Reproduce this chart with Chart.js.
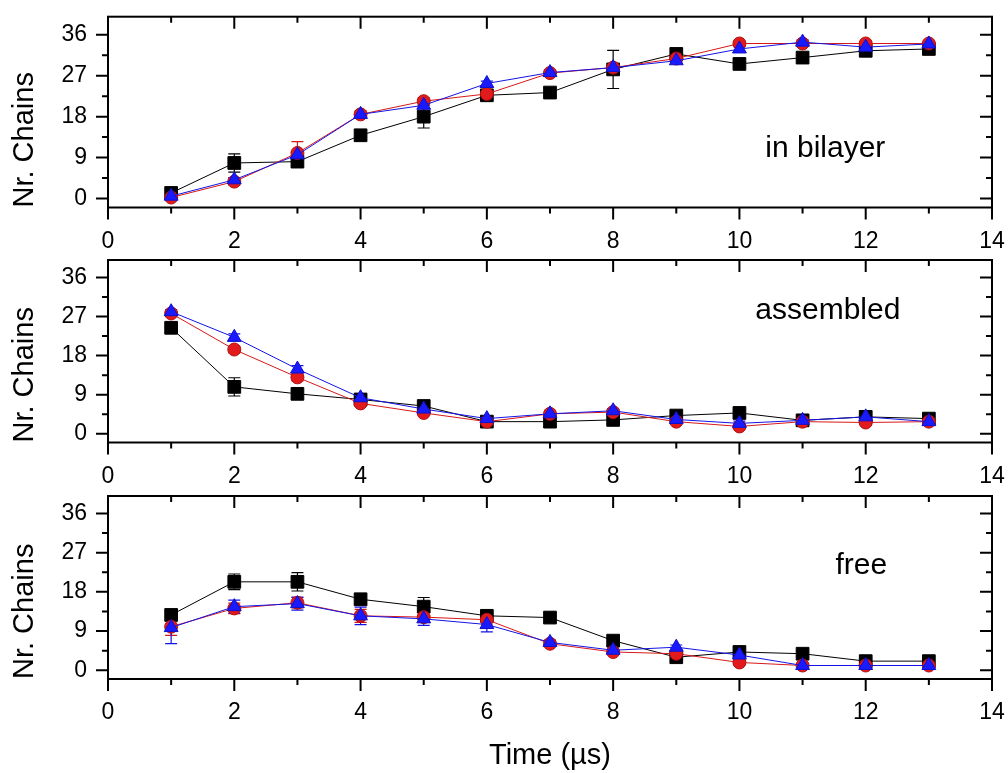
<!DOCTYPE html>
<html>
<head>
<meta charset="utf-8">
<script src="https://cdn.jsdelivr.net/npm/chart.js@4.4.1/dist/chart.umd.min.js"></script>
<style>
  body { margin: 0; background: #fff; }
  #wrap { position: relative; width: 1008px; height: 773px; }
  canvas { position: absolute; left: 0; }
</style>
</head>
<body>
<div id="wrap">
  <canvas id="panel-1" width="1008" height="250" style="top:0px"></canvas>
  <canvas id="panel-2" width="1008" height="236" style="top:250px"></canvas>
  <canvas id="panel-3" width="1008" height="287" style="top:486px"></canvas>
</div>
<script>
// time points (µs)
const times = [1, 2, 3, 4, 5, 6, 7, 8, 9, 10, 11, 12, 13];
const xTickLabels = [0, 2, 4, 6, 8, 10, 12, 14];
const yTickLabels = [0, 9, 18, 27, 36];

// in bilayer
const bilayerBlack = [1.2, 7.8, 8.1, 13.9, 18.0, 22.7, 23.3, 28.4, 31.8, 29.6, 31.0, 32.5, 32.9];
const bilayerRed   = [0.2, 3.7, 10.0, 18.5, 21.4, 23.0, 27.6, 28.8, 30.8, 34.1, 34.1, 34.1, 34.1];
const bilayerBlue  = [0.5, 4.1, 9.6, 18.5, 20.5, 25.3, 27.7, 28.8, 30.3, 32.9, 34.4, 33.3, 34.0];
const bilayerBlackErr = [0.5, 2.0, 0.8, 0.5, 2.5, 0.5, 0.5, 4.2, 0.5, 0.5, 0.5, 0.5, 0.5];
const bilayerRedErr   = [0.5, 0.8, 2.5, 0.8, 0.8, 0.5, 0.5, 0.8, 0.5, 0.5, 0.5, 0.5, 0.5];
const bilayerBlueErr  = [0.3, 0.5, 0.8, 0.5, 0.5, 0.5, 0.5, 0.5, 0.5, 0.5, 0.5, 0.5, 0.5];

// assembled
const assembledBlack = [24.4, 10.8, 9.2, 7.9, 6.4, 2.8, 2.8, 3.2, 4.2, 4.8, 3.1, 3.9, 3.5];
const assembledRed   = [27.7, 19.4, 13.0, 7.0, 4.8, 2.8, 4.6, 5.0, 2.8, 1.7, 2.8, 2.6, 2.8];
const assembledBlue  = [28.1, 22.2, 14.9, 8.3, 5.7, 3.5, 4.6, 5.3, 3.3, 2.4, 3.1, 3.9, 2.8];
const assembledBlackErr = [0.8, 2.1, 0.5, 0.5, 0.5, 0.5, 0.5, 0.5, 0.5, 0.5, 0.5, 0.5, 0.5];
const assembledRedErr   = [0.5, 0.8, 0.8, 0.5, 0.5, 0.5, 0.5, 0.5, 0.5, 0.5, 0.5, 0.5, 0.5];
const assembledBlueErr  = [0.5, 0.8, 0.8, 0.5, 0.5, 0.5, 0.5, 0.5, 0.5, 0.5, 0.5, 0.5, 0.5];

// free
const freeBlack = [12.7, 20.3, 20.3, 16.3, 14.6, 12.5, 12.1, 6.8, 3.0, 4.2, 3.8, 2.1, 2.1];
const freeRed   = [10.0, 14.2, 15.5, 12.5, 12.2, 11.6, 6.1, 4.2, 3.8, 1.8, 1.1, 1.1, 1.1];
const freeBlue  = [9.8, 14.6, 15.3, 12.5, 11.8, 10.5, 6.4, 4.6, 5.3, 3.5, 1.1, 1.1, 1.1];
const freeBlackErr = [1.0, 1.8, 2.1, 1.0, 2.1, 1.0, 0.5, 0.5, 0.5, 0.5, 0.5, 0.5, 0.5];
const freeRedErr   = [2.0, 1.2, 1.2, 1.5, 1.2, 1.2, 0.5, 0.5, 0.5, 0.5, 0.5, 0.5, 0.5];
const freeBlueErr  = [3.7, 1.5, 1.5, 2.0, 1.5, 1.7, 0.5, 0.5, 0.5, 0.5, 0.5, 0.5, 0.5];

Chart.defaults.font.family = "'Liberation Sans', Arial, sans-serif";
Chart.defaults.color = '#000';

const toPoints = vals => times.map((t, i) => ({ x: t, y: vals[i] }));

// frame with ticks on all four sides (out on bottom/left, in on top/right)
const panelFrame = {
  id: 'panelFrame',
  afterDraw(chart) {
    const { ctx, chartArea: a, scales: { x, y } } = chart;
    const xStep = (xTickLabels[1] - xTickLabels[0]) / 2;
    const yStep = (yTickLabels[1] - yTickLabels[0]) / 2;
    ctx.save();
    ctx.strokeStyle = '#000';
    ctx.lineWidth = 2;
    ctx.strokeRect(a.left, a.top, a.right - a.left, a.bottom - a.top);
    ctx.beginPath();
    for (let i = 0; xTickLabels[0] + i * xStep <= xTickLabels[xTickLabels.length - 1]; i++) {
      const px = x.getPixelForValue(xTickLabels[0] + i * xStep);
      const len = i % 2 === 0 ? 12 : 6;
      ctx.moveTo(px, a.bottom); ctx.lineTo(px, a.bottom + len);
      ctx.moveTo(px, a.top); ctx.lineTo(px, a.top + len);
    }
    for (let i = 0; yTickLabels[0] + i * yStep <= yTickLabels[yTickLabels.length - 1]; i++) {
      const py = y.getPixelForValue(yTickLabels[0] + i * yStep);
      const len = i % 2 === 0 ? 12 : 6;
      ctx.moveTo(a.left, py); ctx.lineTo(a.left - len, py);
      ctx.moveTo(a.right, py); ctx.lineTo(a.right - len, py);
    }
    ctx.stroke();
    ctx.restore();
  }
};

const errorBars = {
  id: 'errorBars',
  beforeDatasetsDraw(chart) {
    const { ctx, scales: { x, y } } = chart;
    chart.data.datasets.forEach(ds => {
      if (!ds.yErr) return;
      ctx.save();
      ctx.strokeStyle = ds.borderColor;
      ctx.lineWidth = 1.2;
      ds.data.forEach((p, j) => {
        const e = ds.yErr[j];
        if (!e) return;
        const px = x.getPixelForValue(p.x);
        const y1 = y.getPixelForValue(p.y - e);
        const y2 = y.getPixelForValue(p.y + e);
        ctx.beginPath();
        ctx.moveTo(px, y1); ctx.lineTo(px, y2);
        ctx.moveTo(px - 6, y1); ctx.lineTo(px + 6, y1);
        ctx.moveTo(px - 6, y2); ctx.lineTo(px + 6, y2);
        ctx.stroke();
      });
      ctx.restore();
    });
  }
};

const panelLabel = {
  id: 'panelLabel',
  afterDraw(chart, args, opts) {
    const { ctx, scales: { x, y } } = chart;
    ctx.save();
    ctx.font = "30px 'Liberation Sans', Arial, sans-serif";
    ctx.fillStyle = '#000';
    ctx.textAlign = 'center';
    ctx.textBaseline = 'alphabetic';
    ctx.fillText(opts.text, x.getPixelForValue(opts.x), y.getPixelForValue(opts.y));
    ctx.restore();
  }
};

const makePanel = (id, black, red, blue, errs, label, padTop, xHeight, showTitle) => {
  const ctx = document.getElementById(id);
  return new Chart(ctx, {
    type: 'scatter',
    data: {
      datasets: [
        {
          label: 'black', data: toPoints(black), yErr: errs[0], order: 3,
          showLine: true, borderColor: '#000', borderWidth: 1,
          pointStyle: 'rect', pointRadius: 9, pointBackgroundColor: '#000',
          pointBorderColor: '#000', pointBorderWidth: 1
        },
        {
          label: 'red', data: toPoints(red), yErr: errs[1], order: 2,
          showLine: true, borderColor: '#d81818', borderWidth: 1,
          pointStyle: 'circle', pointRadius: 6.5, pointBackgroundColor: '#e31a1c',
          pointBorderColor: '#b01010', pointBorderWidth: 1
        },
        {
          label: 'blue', data: toPoints(blue), yErr: errs[2], order: 1,
          showLine: true, borderColor: '#1414e6', borderWidth: 1,
          pointStyle: 'triangle', pointRadius: 8, pointBackgroundColor: '#1a1aff',
          pointBorderColor: '#1010cc', pointBorderWidth: 1
        }
      ]
    },
    options: {
      responsive: false,
      devicePixelRatio: 1,
      animation: false,
      events: [],
      layout: { padding: { top: padTop, right: 16, bottom: 0, left: 0 } },
      plugins: {
        legend: { display: false },
        tooltip: { enabled: false },
        panelLabel: label
      },
      scales: {
        x: {
          type: 'linear', min: 0, max: 14,
          afterBuildTicks: s => { s.ticks = xTickLabels.map(v => ({ value: v })); },
          afterFit: s => { s.height = xHeight; s.paddingLeft = 0; s.paddingRight = 0; },
          grid: { display: false, drawTicks: false },
          border: { display: false },
          ticks: { font: { size: 23 }, padding: 20, maxRotation: 0, autoSkip: false },
          title: {
            display: showTitle, text: 'Time (µs)',
            font: { size: 29 }, padding: { top: 0, bottom: 0 }
          }
        },
        y: {
          type: 'linear', min: -2, max: 40,
          afterBuildTicks: s => { s.ticks = yTickLabels.map(v => ({ value: v })); },
          afterFit: s => { s.width = 108; s.paddingTop = 0; s.paddingBottom = 0; },
          grid: { display: false, drawTicks: false },
          border: { display: false },
          ticks: { font: { size: 23 }, padding: 21 },
          title: {
            display: true, text: 'Nr. Chains', align: 'start',
            font: { size: 29 }, padding: { top: 8, bottom: 0 }
          }
        }
      }
    },
    plugins: [errorBars, panelFrame, panelLabel]
  });
};

makePanel('panel-1', bilayerBlack, bilayerRed, bilayerBlue,
  [bilayerBlackErr, bilayerRedErr, bilayerBlueErr],
  { text: 'in bilayer', x: 11.36, y: 9.2 }, 16.7, 42.5, false);

makePanel('panel-2', assembledBlack, assembledRed, assembledBlue,
  [assembledBlackErr, assembledRedErr, assembledBlueErr],
  { text: 'assembled', x: 11.4, y: 26.4 }, 2.5, 43.5, false);

makePanel('panel-3', freeBlack, freeRed, freeBlue,
  [freeBlackErr, freeRedErr, freeBlueErr],
  { text: 'free', x: 11.93, y: 22.0 }, 2.5, 94, true);
</script>
</body>
</html>
